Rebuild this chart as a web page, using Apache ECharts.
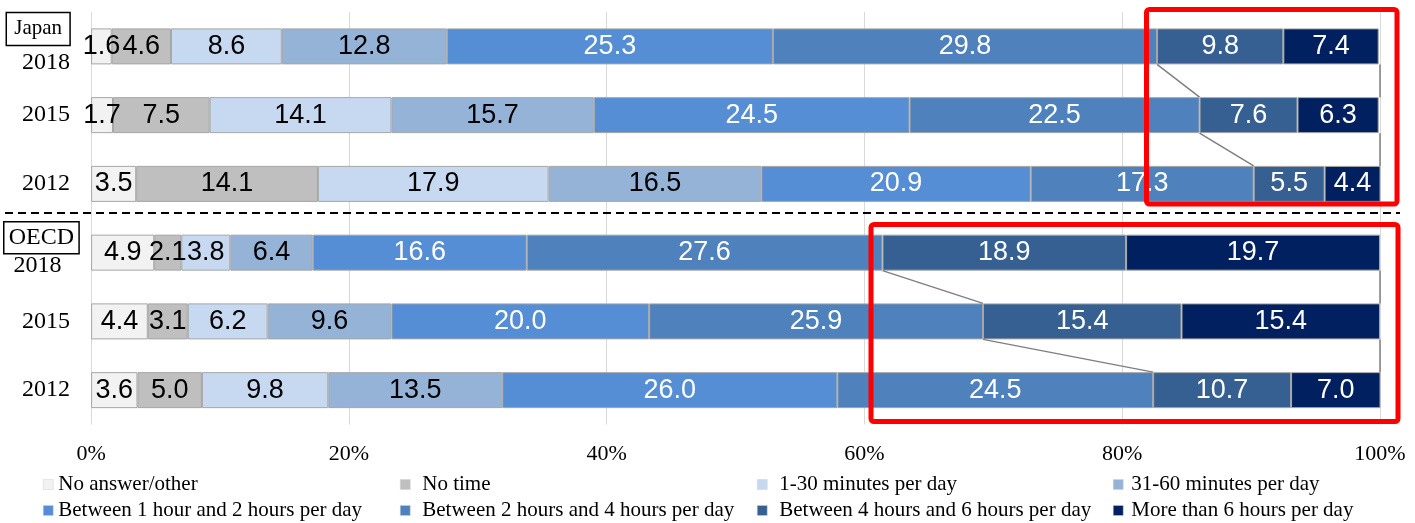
<!DOCTYPE html>
<html>
<head>
<meta charset="utf-8">
<title>Time spent on the internet outside school</title>
<script src="https://cdn.jsdelivr.net/npm/echarts@6/dist/echarts.min.js"></script>
<style>
  html, body { margin: 0; padding: 0; background: #fff; }
  #chart { width: 1415px; height: 523px; }
</style>
</head>
<body>
<div id="chart"></div>
<script>
// Rows, top to bottom: Japan 2018/2015/2012, then OECD average 2018/2015/2012
const categories = ['Japan 2018', 'Japan 2015', 'Japan 2012', 'OECD 2018', 'OECD 2015', 'OECD 2012'];

const seriesNames = [
  'No answer/other',
  'No time',
  '1-30 minutes per day',
  '31-60 minutes per day',
  'Between 1 hour and 2 hours per day',
  'Between 2 hours and 4 hours per day',
  'Between 4 hours and 6 hours per day',
  'More than 6 hours per day'
];

// Share of students (%) in each row of categories
const noAnswer   = [1.6, 1.7, 3.5, 4.9, 4.4, 3.6];
const noTime     = [4.6, 7.5, 14.1, 2.1, 3.1, 5.0];
const min1to30   = [8.6, 14.1, 17.9, 3.8, 6.2, 9.8];
const min31to60  = [12.8, 15.7, 16.5, 6.4, 9.6, 13.5];
const hours1to2  = [25.3, 24.5, 20.9, 16.6, 20.0, 26.0];
const hours2to4  = [29.8, 22.5, 17.3, 27.6, 25.9, 24.5];
const hours4to6  = [9.8, 7.6, 5.5, 18.9, 15.4, 10.7];
const hours6plus = [7.4, 6.3, 4.4, 19.7, 15.4, 7.0];

// Percentage axis ticks
const xTicks = [0, 20, 40, 60, 80, 100];

const seriesValues = [noAnswer, noTime, min1to30, min31to60, hours1to2, hours2to4, hours4to6, hours6plus];
const seriesColors = ['#f2f2f2', '#bfbfbf', '#c6d9f1', '#95b3d7', '#558ed5', '#4f81bd', '#376092', '#002060'];
const labelColors  = ['#000', '#000', '#000', '#000', '#fff', '#fff', '#fff', '#fff'];

const BAR_WIDTH = 36;
const SERIF = "'Liberation Serif', 'Times New Roman', serif";
const SANS = "'Liberation Sans', Arial, sans-serif";
const FULL_SHARE = xTicks[xTicks.length - 1];

// Connector lines between neighbouring years of the same group:
// one at the start of the "4-6 hours" segment, one at the end of the bar.
const connectorData = [];
function cumulative(row, upto) {
  let s = 0;
  for (let k = 0; k < upto; k++) s += seriesValues[k][row];
  return Math.round(s * 10) / 10;
}
[[0, 1], [1, 2], [3, 4], [4, 5]].forEach(([a, b]) => {
  connectorData.push([cumulative(a, 6), a, cumulative(b, 6), b]);
  connectorData.push([FULL_SHARE, a, FULL_SHARE, b]);
});

const chart = echarts.init(document.getElementById('chart'), null, { renderer: 'canvas' });

const barSeries = seriesNames.map((name, i) => ({
  name,
  type: 'bar',
  stack: 'share',
  barWidth: BAR_WIDTH,
  data: seriesValues[i],
  itemStyle: { color: seriesColors[i], borderColor: '#a6a6a6', borderWidth: 1 },
  label: {
    show: true,
    position: 'inside',
    formatter: p => p.value.toFixed(1),
    color: labelColors[i],
    fontFamily: SANS,
    fontSize: 27
  },
  emphasis: { disabled: true }
}));

const connectorSeries = {
  type: 'custom',
  silent: true,
  z: 5,
  encode: { x: [0, 2], y: [1, 3] },
  data: connectorData,
  renderItem: (params, api) => {
    const p1 = api.coord([api.value(0), api.value(1)]);
    const p2 = api.coord([api.value(2), api.value(3)]);
    const half = BAR_WIDTH / 2;
    return {
      type: 'line',
      shape: { x1: p1[0], y1: p1[1] + half, x2: p2[0], y2: p2[1] - half },
      style: { stroke: '#7f7f7f', lineWidth: 1.5 }
    };
  }
};

// Legend: two rows of four entries, each entry placed in its own column
const legendCols = [
  { left: 43, gap: 0 },
  { left: 400, gap: 7 },
  { left: 757, gap: 7 },
  { left: 1113, gap: 3 }
];
const legendRows = [474, 500];
const legends = seriesNames.map((name, i) => {
  const c = legendCols[i % 4];
  return {
    orient: 'horizontal',
    left: c.left,
    top: legendRows[Math.floor(i / 4)],
    padding: 0,
    itemWidth: 10,
    itemHeight: 10,
    icon: 'rect',
    selectedMode: false,
    data: [name],
    itemStyle: { borderColor: '#d0d0d0', borderWidth: 0.5 },
    textStyle: {
      fontFamily: SERIF,
      fontSize: 21,
      color: '#000',
      padding: [0, 0, 0, c.gap]
    }
  };
});

const option = {
  animation: false,
  backgroundColor: '#fff',
  grid: { left: 91, right: 35, top: 12, bottom: 98.5, containLabel: false },
  legend: legends,
  xAxis: {
    type: 'value',
    min: xTicks[0],
    max: FULL_SHARE,
    interval: xTicks[1] - xTicks[0],
    axisLine: { show: false },
    axisTick: { show: false },
    splitLine: { show: true, lineStyle: { color: '#d9d9d9', width: 1 } },
    axisLabel: {
      formatter: '{value}%',
      margin: 19,
      color: '#000',
      fontFamily: SERIF,
      fontSize: 22
    }
  },
  yAxis: {
    type: 'category',
    inverse: true,
    data: categories,
    axisLine: { show: false },
    axisTick: { show: false },
    axisLabel: {
      margin: 12,
      align: 'right',
      color: '#000',
      fontFamily: SERIF,
      fontSize: 24,
      formatter: (value, index) => {
        const [group, year] = value.split(' ');
        if (index % 3 !== 0) return '{yr|' + year + '}';
        if (group === 'Japan') return '{jbox|' + group + '}{jsp|}\n{jyr|' + year + '}';
        return '{obox|' + group + '}\n{oyr|' + year + '}';
      },
      rich: {
        yr: { fontFamily: SERIF, fontSize: 24, color: '#000', align: 'right', padding: [0, 9, 0, 0] },
        jbox: {
          fontFamily: SERIF, fontSize: 21, color: '#000', height: 21,
          padding: [6, 8, 6, 8], borderColor: '#000', borderWidth: 1.5
        },
        jsp: { width: 9, height: 21 },
        jyr: { fontFamily: SERIF, fontSize: 24, color: '#000', align: 'right', height: 24, padding: [5, 9, 6, 0] },
        obox: {
          fontFamily: SERIF, fontSize: 24, color: '#000', height: 24,
          padding: [4, 5, 4, 5], borderColor: '#000', borderWidth: 1.5
        },
        oyr: { fontFamily: SERIF, fontSize: 24, color: '#000', align: 'center', height: 24, padding: [0, 8, 6, 0] }
      }
    }
  },
  graphic: [
    // separator between the Japan and OECD groups
    {
      type: 'line', z: 10, silent: true,
      shape: { x1: 5, y1: 213, x2: 1400, y2: 213 },
      style: { stroke: '#000', lineWidth: 2, lineDash: [8, 5] }
    },
    // highlight frames around the long-use categories
    {
      type: 'rect', z: 10, silent: true,
      shape: { x: 1146.5, y: 9.5, width: 250.5, height: 194.5, r: 3 },
      style: { fill: 'none', stroke: '#ff0000', lineWidth: 5 }
    },
    {
      type: 'rect', z: 10, silent: true,
      shape: { x: 871, y: 224.5, width: 527, height: 197, r: 3 },
      style: { fill: 'none', stroke: '#ff0000', lineWidth: 5 }
    }
  ],
  series: [...barSeries, connectorSeries]
};

chart.setOption(option);
</script>
</body>
</html>
